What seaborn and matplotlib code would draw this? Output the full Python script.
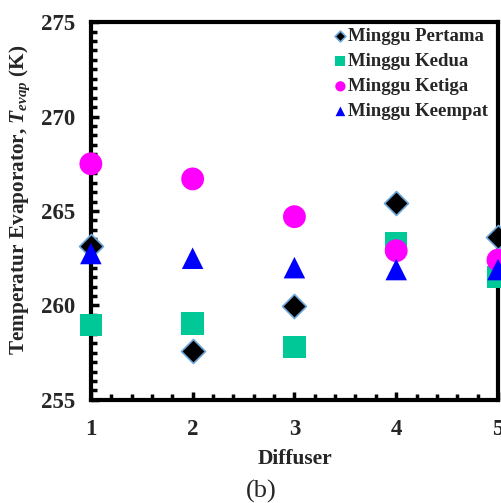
import matplotlib
matplotlib.use("Agg")
import matplotlib.pyplot as plt
import seaborn as sns
import pandas as pd
from matplotlib.ticker import MultipleLocator

diffuser = [1, 2, 3, 4, 5]
pertama = [263.15, 257.6, 259.95, 265.4, 263.6]
kedua = [258.95, 259.05, 257.8, 263.3, 261.5]
ketiga = [267.5, 266.7, 264.7, 262.9, 262.4]
keempat = [262.75, 262.5, 262.0, 261.9, 261.9]
series_names = ["Minggu Pertama", "Minggu Kedua", "Minggu Ketiga", "Minggu Keempat"]

sns.set_theme(style="white")
plt.rcParams["font.family"] = ["Liberation Serif", "DejaVu Serif"]
plt.rcParams["mathtext.fontset"] = "custom"
plt.rcParams["mathtext.it"] = "Liberation Serif:italic:bold"
plt.rcParams["mathtext.bf"] = "Liberation Serif:bold"
plt.rcParams["mathtext.rm"] = "Liberation Serif:bold"

fig = plt.figure(figsize=(5.02, 5.03), dpi=100)
ax = fig.add_axes([0.181, 0.205, 0.811, 0.751])

styles = [
    dict(marker="D", color="black", edgecolor="#6FA8DC", s=150, linewidth=1.2),
    dict(marker="s", color="#00C896", edgecolor="none", s=260, linewidth=0),
    dict(marker="o", color="#FF00FF", edgecolor="none", s=270, linewidth=0),
    dict(marker="^", color="#0000FF", edgecolor="none", s=240, linewidth=0),
]
data = [pertama, kedua, ketiga, keempat]
for name, vals, st in zip(series_names, data, styles):
    df = pd.DataFrame({"Diffuser": diffuser, "T": vals})
    sns.scatterplot(data=df, x="Diffuser", y="T", ax=ax, label=name,
                    marker=st["marker"], color=st["color"], edgecolor=st["edgecolor"],
                    s=st["s"], linewidth=st["linewidth"], clip_on=False, zorder=3)

ax.set_xlim(1, 5)
ax.set_ylim(255, 275)
ax.xaxis.set_major_locator(MultipleLocator(1))
ax.xaxis.set_minor_locator(MultipleLocator(0.2))
ax.yaxis.set_major_locator(MultipleLocator(5))
ax.yaxis.set_minor_locator(MultipleLocator(0.5))
ax.tick_params(which="both", direction="in", width=2.5, color="black",
               top=False, right=False, left=True, bottom=True)
ax.tick_params(which="major", length=6, labelsize=16.5)
ax.tick_params(axis="y", which="major", pad=11)
ax.tick_params(axis="x", which="major", pad=14)
ax.tick_params(which="minor", length=4)
for lab in ax.get_xticklabels() + ax.get_yticklabels():
    lab.set_fontweight("bold")
for sp in ax.spines.values():
    sp.set_linewidth(3)
    sp.set_color("black")

ax.set_xlabel("Diffuser", fontsize=15.5, fontweight="bold")
ax.xaxis.set_label_coords(0.502, -0.13)
ax.set_ylabel(r"Temperatur Evaporator, $\mathit{T}_{\mathit{evap}}$ (K)",
              fontsize=15.3, fontweight="bold")
ax.yaxis.set_label_coords(-0.145, 0.53)

leg = ax.legend(loc="upper right", frameon=False, fontsize=13.5, handletextpad=-0.2,
                labelspacing=0.42, borderaxespad=0.1, borderpad=0.22, markerscale=0.45,
                handlelength=1.2, bbox_to_anchor=(0.99, 1.0))
for t in leg.get_texts():
    t.set_fontweight("bold")

fig.text(0.52, 0.022, "(b)", fontsize=19, ha="center", va="center")

fig.savefig("out.png", dpi=100)
